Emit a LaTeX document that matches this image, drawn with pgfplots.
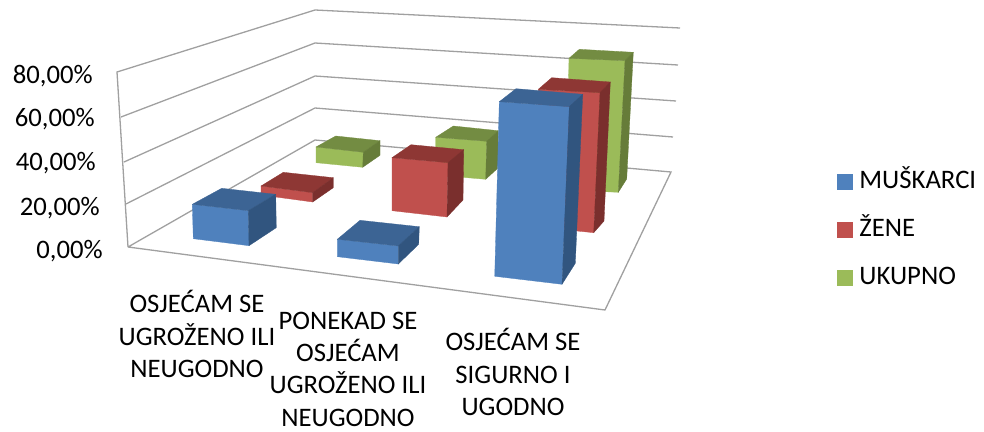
\documentclass[border=0pt]{standalone}
\usepackage{pgfplots}
\pgfplotsset{compat=1.18}
\usepackage{fontspec}
\setmainfont{Carlito}
\definecolor{bF}{HTML}{4F81BD}\definecolor{bT}{HTML}{3C6494}\definecolor{bS}{HTML}{31557F}
\definecolor{rF}{HTML}{C0504D}\definecolor{rT}{HTML}{8E3734}\definecolor{rS}{HTML}{7A2F2D}
\definecolor{gF}{HTML}{9BBB59}\definecolor{gT}{HTML}{738C42}\definecolor{gS}{HTML}{667C39}
\definecolor{gridc}{HTML}{A0A0A0}
% one bar: front face, top face, side face as polygons
\newcommand{\barbox}[4]{%
  \addplot[fill=#1F,draw=#1F,line width=0.3pt] coordinates {#2} --cycle;
  \addplot[fill=#1T,draw=#1T,line width=0.3pt] coordinates {#3} --cycle;
  \addplot[fill=#1S,draw=#1S,line width=0.3pt] coordinates {#4} --cycle;
}
\newcommand{\tl}[3]{\node[anchor=east,inner sep=0pt] at (axis cs:#1,#2) {#3};}
\newcommand{\lgimg}[1]{\addlegendimage{legend image code/.code={\fill[#1] (0pt,-8pt) rectangle (15pt,7pt);\path (22pt,0pt);}}}
\begin{document}
\begin{tikzpicture}
\path[use as bounding box] (0,0) rectangle (984pt,431pt);
\begin{axis}[
  at={(0,0)},anchor=south west,
  width=984pt,height=431pt,scale only axis,
  xmin=0,xmax=984,ymin=0,ymax=431,y dir=reverse,
  hide axis,clip=false,no markers,
  every axis plot/.append style={forget plot},
  font=\fontsize{26.7}{32.3}\selectfont,
  legend cell align=left,
  legend style={at={(axis cs:837,166.5)},anchor=north west,draw=none,fill=none,
    inner sep=0pt,outer sep=0pt,row sep=18pt,
    nodes={text height=22pt,text depth=8pt,inner sep=0pt},
    font=\fontsize{26.7}{32.3}\selectfont},
]
% walls
\addplot[gridc,line width=1.3pt] coordinates {(128,247)(117,72)(315,10)(680,28)};
\addplot[gridc,line width=1.3pt] coordinates {(121,117)(315,43)(678,65)};
\addplot[gridc,line width=1.3pt] coordinates {(124,162)(315,76)(676,101)};
\addplot[gridc,line width=1.3pt] coordinates {(126,204)(315,108)(673,137)};
% floor
\addplot[gridc,line width=1.3pt] coordinates {(128,247)(315,140)(671,172)(605,310)(128,247)};
% category 1
\barbox{g}{(316,147)(363.3,152.3)(362.7,167.3)(316,162.7)}{(316,147)(335.7,136)(380,140.7)(363.3,152.3)}{(363.3,152.3)(380,140.7)(380,155.3)(362.7,167.3)}
\barbox{r}{(261,186)(312.7,192.7)(312.7,202)(261,195)}{(261,186)(283.3,172.3)(333.3,177.7)(312.7,192.7)}{(312.7,192.7)(333.3,177.7)(333.3,187.7)(312.7,202)}
\barbox{b}{(192.3,204.3)(248.3,210.7)(249,245.7)(193.3,238.7)}{(192.3,204.3)(221.7,188.3)(275.7,194.3)(248.3,210.7)}{(248.3,210.7)(275.7,194.3)(276.3,227.7)(249,245.7)}
% category 2
\barbox{g}{(435.7,137.3)(486.7,141.3)(485.7,179.3)(435.7,175)}{(435.7,137.3)(453.3,126)(498.3,130.7)(486.7,141.3)}{(486.7,141.3)(498.3,130.7)(497.7,168.3)(485.7,179.3)}
\barbox{r}{(392,157.7)(448,162.7)(447,217)(392,210.7)}{(392,157.7)(411,144.7)(463.7,149.7)(448,162.7)}{(448,162.7)(463.7,149.7)(463,200)(447,217)}
\barbox{b}{(337.3,239.3)(398.3,246)(398.3,264)(337.3,256.7)}{(337.3,239.3)(360,220.3)(419.3,226.7)(398.3,246)}{(398.3,246)(419.3,226.7)(418.7,244.3)(398.3,264)}
% category 3
\barbox{g}{(569,58.3)(625,60.7)(618.3,192.3)(566,190)}{(569,58.3)(579.3,49.3)(633.3,52.3)(625,60.7)}{(625,60.7)(633.3,52.3)(626.7,179)(618.3,192.3)}
\barbox{r}{(538.3,89.3)(600,92.7)(593.7,232.7)(535,226.7)}{(538.3,89.3)(551.7,77.7)(610.3,82)(600,92.7)}{(600,92.7)(610.3,82)(604,221)(593.7,232.7)}
\barbox{b}{(499.3,101.7)(569.3,106.7)(562,284.3)(494.7,276.3)}{(499.3,101.7)(516,88.7)(582.7,94.3)(569.3,106.7)}{(569.3,106.7)(582.7,94.3)(575.3,263.3)(562,284.3)}
% tick labels
\tl{103}{251}{0,00\%}
\tl{100}{208}{20,00\%}
\tl{96}{163}{40,00\%}
\tl{95}{119}{60,00\%}
\tl{93}{76}{80,00\%}
% category labels
\node[align=center,inner sep=0pt] at (axis cs:197,334) {OSJEĆAM SE\\UGROŽENO ILI\\NEUGODNO};
\node[align=center,inner sep=0pt] at (axis cs:348,369) {PONEKAD SE\\OSJEĆAM\\UGROŽENO ILI\\NEUGODNO};
\node[align=center,inner sep=0pt] at (axis cs:513,372) {OSJEĆAM SE\\SIGURNO I\\UGODNO};
% legend
\lgimg{bF}\addlegendentry{MUŠKARCI}
\lgimg{rF}\addlegendentry{ŽENE}
\lgimg{gF}\addlegendentry{UKUPNO}
\end{axis}
\end{tikzpicture}
\end{document}
